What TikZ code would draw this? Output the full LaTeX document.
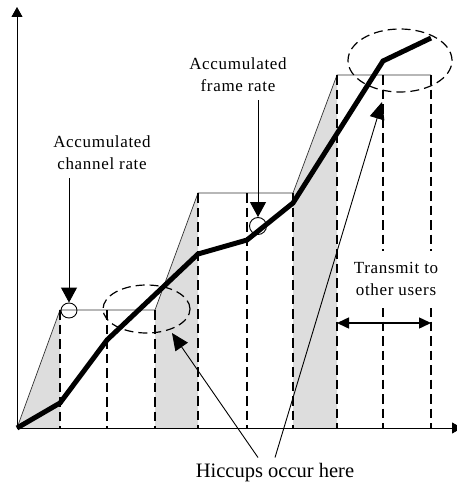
\documentclass[tikz,border=0pt]{standalone}
\usepackage{fontspec}
\setmainfont{Liberation Serif}
\newfontfamily\lblfont[LetterSpace=4]{Liberation Serif}
\usetikzlibrary{arrows.meta,shapes.geometric}
\definecolor{shadegray}{RGB}{221,221,221}

\begin{document}
\begin{tikzpicture}[x=1pt,y=-1pt,
  axis/.style={line width=0.9pt,-{Triangle[length=10pt,width=11pt]}},
  stepline/.style={line width=0.7pt,black!80},
  slot/.style={line width=1.5pt,dash pattern=on 9.5pt off 5pt},
  shade/.style={fill=shadegray,draw=none},
  framerate/.style={line width=5pt},
  hiccup/.style={draw,ellipse,line width=1.2pt,dash pattern=on 9pt off 5pt,inner sep=0pt},
  spot/.style={draw,ellipse,line width=0.9pt,inner sep=0pt},
  pointer/.style={line width=0.9pt,-{Triangle[length=15pt,width=16pt]}},
  callout/.style={line width=0.9pt,-{Triangle[length=17pt,width=15pt]}},
  span/.style={line width=1.5pt,{Triangle[length=12pt,width=11pt]}-{Triangle[length=12pt,width=11pt]}},
  lbl/.style={font=\lblfont\fontsize{17}{22}\selectfont,align=center,inner sep=0pt}]

\useasboundingbox (0,0) rectangle (456,487);

% staircase corners of the accumulated channel rate
\coordinate (O) at (17,428);
\coordinate (s1) at (60,310);
\coordinate (s1r) at (155,310);
\coordinate (s2) at (198,193);
\coordinate (s2r) at (293,193);
\coordinate (s3) at (337,75);
\coordinate (s3r) at (431,75);

% shaded ramps
\fill[shade] (O) -- (s1) -- (60,428) -- cycle;
\fill[shade] (s1r) -- (s2) -- (198,428) -- (155,428) -- cycle;
\fill[shade] (s2r) -- (s3) -- (337,428) -- (293,428) -- cycle;

% channel rate staircase
\draw[stepline] (O) -- (s1) -- (s1r) -- (s2) -- (s2r) -- (s3) -- (s3r);

% frame slots
\foreach \x/\y in {60/310,107/310,155/310,198/193,247/193,293/193,337/75,383/75,431/75}
  \draw[slot] (\x,\y) -- (\x,428);

% axes
\coordinate (ytop) at (17,7);
\coordinate (xend) at (462,428);
\draw[axis] (O) -- (ytop);
\draw[axis] (O) -- (xend);

% accumulated frame rate
\draw[framerate] (O) -- (60,403) -- (107,340) -- (198,254) -- (247,240)
  -- (293,203) -- (383,61) -- (431,38);

% hiccup regions
\node[hiccup,minimum width=87pt,minimum height=48pt] (e1) at (146.5,309) {};
\node[hiccup,minimum width=104pt,minimum height=63pt] (e2) at (400,60.5) {};

% marked points
\node[spot,minimum width=16pt,minimum height=15pt] (c1) at (69,310.5) {};
\node[spot,minimum width=17pt,minimum height=17pt] (c2) at (258,226) {};

% labels
\node[lbl] (lab1) at (102,153) {Accumulated\\channel rate};
\node[lbl] (lab2) at (238,75) {Accumulated\\frame rate};
\node[lbl,fill=white,inner xsep=5pt,minimum height=57pt] (lab3) at (396,279) {Transmit to\\other users};
\node[inner sep=0pt,font=\fontsize{20.5}{24}\selectfont] (hic) at (275,473) {Hiccups occur here};

\draw[pointer] ([yshift=-8pt]lab1.south -| c1.north) -- (c1.north);
\draw[pointer] ([yshift=-8pt]lab2.south -| c2.north) -- (c2.north);

% transmit span
\coordinate (tr1) at (337,323);
\coordinate (tr2) at (431,323);
\draw[span] (tr1) -- (tr2);

% hiccup callouts
\coordinate (t1) at (172,333);
\coordinate (t2) at (382,102);
\draw[callout] ([xshift=-17pt,yshift=6pt]hic.north) -- (t1);
\draw[callout] ([xshift=0pt,yshift=6pt]hic.north) -- (t2);
\end{tikzpicture}
\end{document}
